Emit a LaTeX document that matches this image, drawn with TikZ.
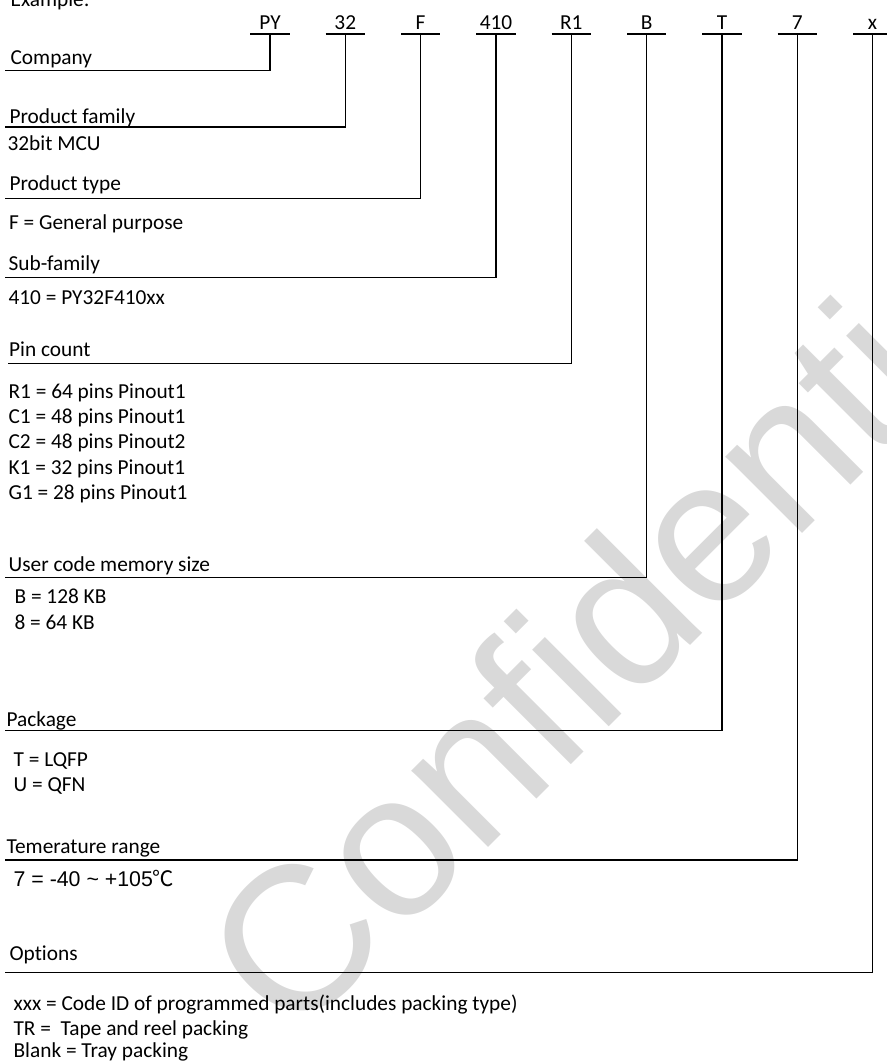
\documentclass[tikz,border=0pt]{standalone}
\usepackage{fontspec}
\setmainfont{Carlito}[Ligatures=NoCommon]
\newfontfamily\arialfont{Liberation Sans}
\newfontfamily\cjk{Noto Sans CJK SC}
\usepackage{tikz}

\begin{document}
\begin{tikzpicture}[x=0.75pt,y=-0.75pt,line width=0.9pt,
every node/.style={font=\fontsize{16}{19}\selectfont},
cd/.style={anchor=base,inner xsep=0pt,inner ysep=3pt,text depth=0pt,minimum width=28.5pt},
lb/.style={anchor=base west,inner sep=0pt},
wm/.style={anchor=base west,inner sep=0pt,rotate=45,text=black!15,
font=\arialfont\fontsize{153.75}{160}\selectfont}]
\useasboundingbox (0,0) rectangle (886,1064);
\node[wm] (conf) at (292.5,1043.5) {Confidential};
\node[lb] (ex) at (10,6) {Example:};
% part number fields
\node[cd] (py)  at (270,29.3)   {PY};
\node[cd] (fam) at (345.3,29.3) {32};
\node[cd] (typ) at (420.6,29.3) {F};
\node[cd] (sub) at (496,29.3)   {410};
\node[cd] (pin) at (571.3,29.3) {R1};
\node[cd] (mem) at (646.6,29.3) {B};
\node[cd] (pkg) at (722,29.3)   {T};
\node[cd] (tmp) at (797.3,29.3) {7};
\node[cd] (opt) at (872.6,29.3) {x};
% captions and values
\node[lb] (company) at (10,64) {Company};
\coordinate (company-l) at (5,70.7);
\node[lb] (family) at (9,123) {Product family};
\coordinate (family-l) at (5,127);
\node[lb] (family-v) at (7,150.7) {32bit MCU};
\node[lb] (type) at (9,190) {Product type};
\coordinate (type-l) at (5,198.3);
\node[lb] (type-v) at (8.5,229.3) {F = General purpose};
\node[lb] (subfam) at (8,270.7) {Sub-family};
\coordinate (subfam-l) at (5,277.3);
\node[lb] (subfam-v) at (8,304) {410 = PY32F410xx};
\node[lb] (pins) at (8.5,356.7) {Pin count};
\coordinate (pins-l) at (8,363.3);
\node[lb] (pins-r1) at (8,398.3) {R1 = 64 pins Pinout1};
\node[lb] (pins-c1) at (8,423.5) {C1 = 48 pins Pinout1};
\node[lb] (pins-c2) at (8,448.7) {C2 = 48 pins Pinout2};
\node[lb] (pins-k1) at (8,474) {K1 = 32 pins Pinout1};
\node[lb] (pins-g1) at (8,499.2) {G1 = 28 pins Pinout1};
\node[lb] (memory) at (8,571.7) {User code memory size};
\coordinate (memory-l) at (5,577.7);
\node[lb] (memory-b) at (14,603.3) {B = 128 KB};
\node[lb] (memory-8) at (14,629.3) {8 = 64 KB};
\node[lb] (package) at (6,726) {Package};
\coordinate (package-l) at (5,730.7);
\node[lb] (package-t) at (13,766) {T = LQFP};
\node[lb] (package-u) at (13,791.7) {U = QFN};
\node[lb] (temp) at (6,853.3) {Temerature range};
\coordinate (temp-l) at (5,860);
\node[lb] (temp-v) at (13,886) {\arialfont 7 = -40 \textasciitilde{} +105{\cjk ℃}};
\node[lb] (options) at (9,960.7) {Options};
\coordinate (options-l) at (5,972.7);
\node[lb] (options-x) at (13,1010) {xxx = Code ID of programmed parts(includes packing type)};
\node[lb] (options-tr) at (13,1035) {TR =\ \ Tape and reel packing};
\node[lb] (options-bl) at (13,1057.3) {Blank = Tray packing};
% leaders
\draw (py.south west) -- (py.south east) (py.south) |- (company-l);
\draw (fam.south west) -- (fam.south east) (fam.south) |- (family-l);
\draw (typ.south west) -- (typ.south east) (typ.south) |- (type-l);
\draw (sub.south west) -- (sub.south east) (sub.south) |- (subfam-l);
\draw (pin.south west) -- (pin.south east) (pin.south) |- (pins-l);
\draw (mem.south west) -- (mem.south east) (mem.south) |- (memory-l);
\draw (pkg.south west) -- (pkg.south east) (pkg.south) |- (package-l);
\draw (tmp.south west) -- (tmp.south east) (tmp.south) |- (temp-l);
\draw (opt.south west) -- (opt.south east) (opt.south) |- (options-l);
\end{tikzpicture}
\end{document}
